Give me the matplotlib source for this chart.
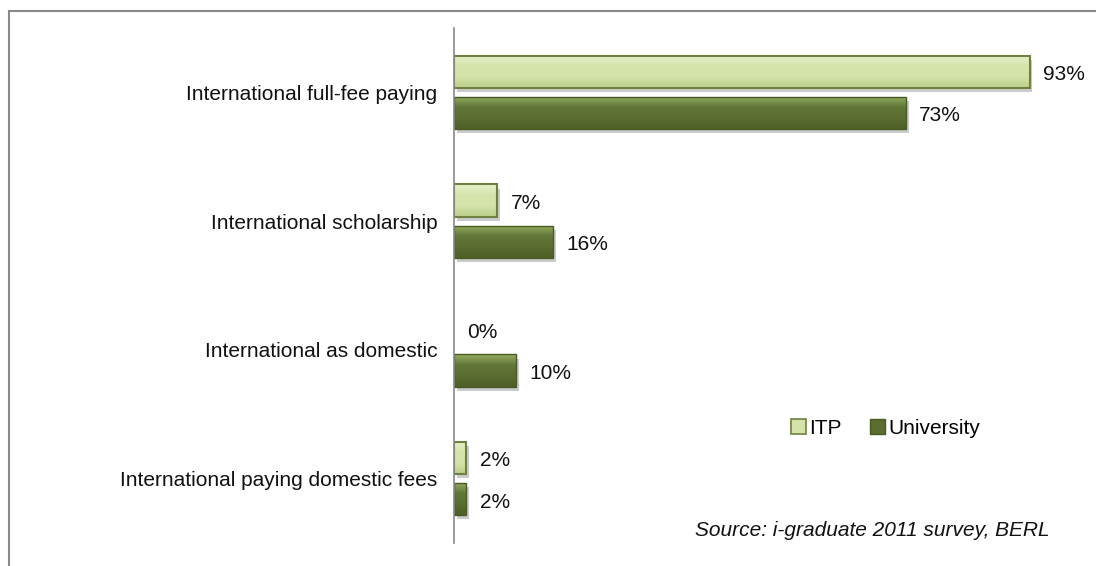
import matplotlib
matplotlib.use("Agg")
import numpy as np
import matplotlib.pyplot as plt
import matplotlib.patheffects as pe
from matplotlib.patches import Rectangle, Patch
from matplotlib.colors import LinearSegmentedColormap

plt.rcParams['font.family'] = ['Liberation Sans', 'DejaVu Sans']

categories = ["International full-fee paying", "International scholarship",
              "International as domestic", "International paying domestic fees"]
itp = [93, 7, 0, 2]
university = [73, 16, 10, 2]
series_names = ["ITP", "University"]
source_text = "Source: i-graduate 2011 survey, BERL"

W, H = 1096, 566
FS = 15
fig = plt.figure(figsize=(W/100, H/100), dpi=100)
ax = fig.add_axes([454/W, 1-543/H, (1073-454)/W, (543-28)/H])

itp_face, itp_edge = "#d3e3a9", "#6f8140"
uni_face, uni_edge = "#5b6d30", "#4a5a24"
itp_cmap = LinearSegmentedColormap.from_list("itp", ["#e6f0cb", "#d5e5ac", "#d3e3a9", "#bccf8a"])
uni_cmap = LinearSegmentedColormap.from_list("uni", ["#93ad5e", "#62763a", "#5b6d30", "#4e5f28"])
off, h = 0.16, 0.25
ys = list(range(len(categories)))

shadow = [pe.SimplePatchShadow(offset=(2, -3), shadow_rgbFace="#999999", alpha=0.5), pe.Normal()]
series = ((itp, -off, itp_face, itp_edge, 1.5, itp_cmap),
          (university, off, uni_face, uni_edge, 1.0, uni_cmap))

grad = np.linspace(0, 1, 64).reshape(-1, 1)
for vals, dy, face, edge, lw, cmap in series:
    pos = [y + dy for y in ys]
    base = ax.barh(pos, vals, height=h, color=face, edgecolor="none",
                   path_effects=shadow, zorder=2)
    for bar, v in zip(base, vals):
        if v == 0:
            bar.set_visible(False)
            continue
        x0, y0 = bar.get_x(), bar.get_y()
        im = ax.imshow(grad, cmap=cmap, aspect="auto", origin="upper",
                       extent=(x0, x0 + bar.get_width(), y0 + bar.get_height(), y0),
                       zorder=2.5, interpolation="bilinear")
        im.set_clip_path(bar)
    outline = ax.barh(pos, vals, height=h, fill=False, edgecolor=edge, linewidth=lw, zorder=2.7)
    for bar, v in zip(outline, vals):
        if v == 0:
            bar.set_visible(False)
        ax.annotate(f"{v}%", (v, bar.get_y() + bar.get_height()/2), xytext=(9.5, -2),
                    textcoords="offset points", ha="left", va="center", fontsize=FS, color="#111111")

ax.set_ylim(len(categories) - 0.5, -0.5)
ax.set_xlim(0, 100)
ax.set_yticks(ys)
ax.set_yticklabels(categories, fontsize=FS, color="#111111")
ax.tick_params(axis='y', length=0, pad=12)
ax.set_xticks([])
for s in ("top", "right", "bottom"):
    ax.spines[s].set_visible(False)
ax.spines["left"].set_color("#888888")
ax.spines["left"].set_linewidth(1.2)
ax.spines["left"].set_zorder(3)

handles = [Patch(facecolor=itp_face, edgecolor=itp_edge, linewidth=1.2),
           Patch(facecolor=uni_face, edgecolor=uni_edge, linewidth=1.0)]
ax.legend(handles, series_names, loc="center", bbox_to_anchor=(0.697, 0.223), ncol=2,
          frameon=False, fontsize=FS, handlelength=0.7, handleheight=0.7,
          handletextpad=0.15, columnspacing=1.4, borderpad=0)

ax.text(0.963, 0.024, source_text, transform=ax.transAxes, ha="right", va="center",
        fontsize=FS, style="italic", color="#111111")

fig.patches.append(Rectangle((8.5/W, -0.2), 1.5, 1.2 - 10.5/H, transform=fig.transFigure,
                             fill=False, edgecolor="#888888", linewidth=1.5))

fig.savefig("out.png", dpi=100, facecolor="white")
